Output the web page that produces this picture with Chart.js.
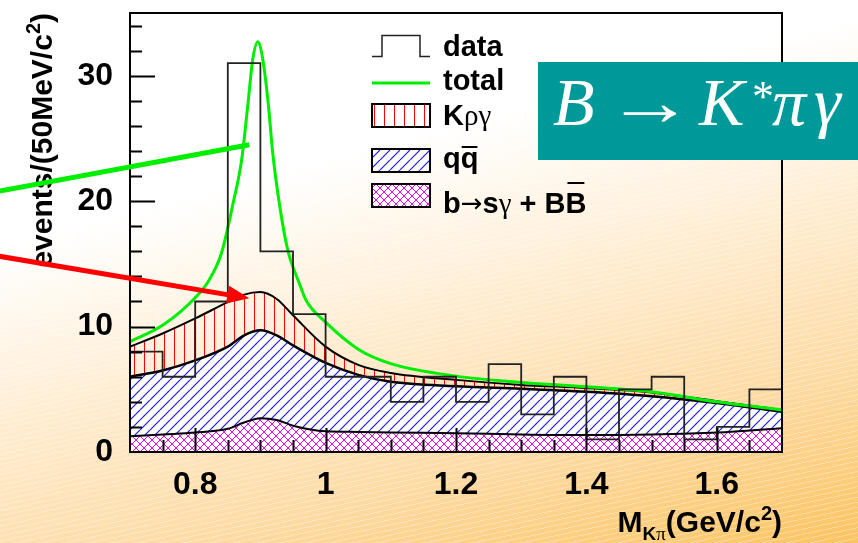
<!DOCTYPE html>
<html>
<head>
<meta charset="utf-8">
<title>B → K*πγ</title>
<script src="https://cdn.jsdelivr.net/npm/chart.js@4.4.1/dist/chart.umd.min.js"></script>
<style>
  html, body { margin: 0; padding: 0; overflow: hidden; }
  #wrap {
    position: relative;
    width: 858px;
    height: 543px;
    background:
      repeating-linear-gradient(168deg, rgba(255,255,255,0) 0 4px, rgba(255,255,255,0.3) 4px 5px),
      linear-gradient(165deg, #ffffff 0%, #ffffff 32%, #fff1dc 50%, #fddaa2 78%, #fbc462 100%);
  }
</style>
</head>
<body>
<div id="wrap"><canvas id="myChart" width="858" height="543"></canvas></div>
<script>
// data histogram, 50 MeV bins from 0.7 to 1.7 GeV
let binStart = 0.7,
  binWidth = 0.05,
  dataCounts = [8, 6, 12, 31, 16, 11, 6, 6, 4, 6, 4, 7, 3, 6, 1, 5, 6, 1, 2, 5];

// fit components (stacked: b->sg+BB, then qq, then K rho gamma)
let compX = [0.7, 0.75, 0.8, 0.85, 0.875, 0.9, 0.925, 0.95, 1.0, 1.05, 1.1, 1.2, 1.3, 1.4, 1.5, 1.6, 1.7],
  bsgBB = [1.25, 1.4, 1.55, 1.85, 2.35, 2.7, 2.55, 2.1, 1.65, 1.6, 1.55, 1.5, 1.4, 1.35, 1.4, 1.55, 1.9],
  qqbar = [4.75, 5.1, 5.75, 6.55, 6.95, 7.0, 6.75, 6.4, 5.45, 4.55, 4.05, 3.75, 3.65, 3.45, 3.05, 2.35, 1.3],
  krhog = [2.4, 2.95, 3.35, 3.55, 3.25, 3.05, 2.9, 2.4, 1.3, 0.8, 0.7, 0.5, 0.3, 0.3, 0.3, 0.15, 0.15];

// total fit curve
let totalX = [0.7, 0.75, 0.8, 0.82, 0.84, 0.858, 0.871, 0.881, 0.888, 0.896, 0.904, 0.912, 0.919, 0.93, 0.942, 0.96, 0.97, 1.0, 1.05, 1.1, 1.2, 1.3, 1.4, 1.5, 1.6, 1.7],
  totalY = [8.8, 10.1, 12.3, 13.6, 15.8, 19.8, 23.2, 27.8, 31.2, 32.7, 31.2, 27.8, 23.8, 19.5, 16.1, 13.4, 12.1, 10.35, 8.2, 7.05, 6.05, 5.55, 5.2, 4.8, 4.0, 3.35];

let xTickValues = [0.8, 1, 1.2, 1.4, 1.6],
  yTickValues = [0, 10, 20, 30];

// arrows pointing at the peak (start, end in data coords)
let greenArrow = [[0.5, 20.8], [0.883, 24.5]],
  redArrow = [[0.5, 15.6], [0.883, 12.25]];

const SANS = '"Liberation Sans", Arial, sans-serif';
const SERIF = '"Liberation Serif", "Times New Roman", serif';
const GREEN = '#00ee00';

var canvas = document.getElementById("myChart");
var ctx = canvas.getContext("2d");

function makePattern(size, bg, color, width, draw) {
  let c = document.createElement("canvas");
  c.width = size;
  c.height = size;
  let g = c.getContext("2d");
  if (bg) {
    g.fillStyle = bg;
    g.fillRect(0, 0, size, size);
  }
  g.strokeStyle = color;
  g.lineWidth = width;
  g.beginPath();
  draw(g, size);
  g.stroke();
  return ctx.createPattern(c, "repeat");
}

const redHatch = makePattern(10, null, "#ff0000", 1, (g, s) => {
  g.moveTo(4.5, 0);
  g.lineTo(4.5, s);
});
const blueHatch = makePattern(10, "#ffffff", "#1a1aff", 1.2, (g, s) => {
  for (let k = -1; k <= 1; k++) {
    g.moveTo(k * s, s);
    g.lineTo(k * s + s, 0);
  }
});
const magentaHatch = makePattern(8, "#ffffff", "#ff00ff", 1, (g, s) => {
  for (let k = -1; k <= 1; k++) {
    g.moveTo(k * s, s);
    g.lineTo(k * s + s, 0);
    g.moveTo(k * s, 0);
    g.lineTo(k * s + s, s);
  }
});

let histPoints = dataCounts.map((v, i) => ({ x: binStart + i * binWidth, y: v }));
histPoints.push({ x: binStart + dataCounts.length * binWidth, y: dataCounts[dataCounts.length - 1] });

const toPts = (xs, ys) => xs.map((x, i) => ({ x: x, y: ys[i] }));

// draw a run of text pieces, return the pieces with their x extents
function drawRun(c, x, y, segs) {
  segs.forEach((s) => {
    c.font = s.f;
    c.fillText(s.t, x, y + (s.dy || 0));
    s.x0 = x;
    x += c.measureText(s.t).width;
    s.x1 = x;
  });
  return segs;
}
function runWidth(c, segs) {
  let w = 0;
  segs.forEach((s) => {
    c.font = s.f;
    w += c.measureText(s.t).width;
  });
  return w;
}

function drawArrow(c, chart, line, color, head) {
  let { x, y } = chart.scales;
  let x0 = x.getPixelForValue(line[0][0]), y0 = y.getPixelForValue(line[0][1]);
  let x1 = x.getPixelForValue(line[1][0]), y1 = y.getPixelForValue(line[1][1]);
  let ang = Math.atan2(y1 - y0, x1 - x0);
  c.strokeStyle = color;
  c.fillStyle = color;
  c.lineWidth = 5;
  c.beginPath();
  c.moveTo(x0, y0);
  if (head) {
    c.lineTo(x1 - 18 * Math.cos(ang), y1 - 18 * Math.sin(ang));
  } else {
    c.lineTo(x1, y1);
  }
  c.stroke();
  if (head) {
    c.beginPath();
    c.moveTo(x1, y1);
    c.lineTo(x1 - 22 * Math.cos(ang) + 9 * Math.sin(ang), y1 - 22 * Math.sin(ang) - 9 * Math.cos(ang));
    c.lineTo(x1 - 22 * Math.cos(ang) - 9 * Math.sin(ang), y1 - 22 * Math.sin(ang) + 9 * Math.cos(ang));
    c.closePath();
    c.fill();
  }
}

const decorations = {
  id: "decorations",
  afterDatasetsDraw(chart) {
    let c = chart.ctx, a = chart.chartArea, { x, y } = chart.scales;
    c.save();
    c.strokeStyle = "#000";
    c.lineWidth = 2;
    c.beginPath();
    // x ticks pointing inward
    for (let i = 1; i < 20; i++) {
      let v = binStart + i * binWidth;
      let major = Math.abs(v / 0.2 - Math.round(v / 0.2)) < 1e-6;
      let px = Math.round(x.getPixelForValue(v)) + 0.5;
      c.moveTo(px, a.bottom);
      c.lineTo(px, a.bottom - (major ? 24 : 12));
    }
    // y ticks
    for (let v = 2; v < 35; v += 2) {
      let py = Math.round(y.getPixelForValue(v)) + 0.5;
      c.moveTo(a.left, py);
      c.lineTo(a.left + (v % 10 === 0 ? 25 : 12), py);
    }
    c.stroke();
    c.strokeRect(a.left, a.top, a.right - a.left, a.bottom - a.top);
    c.restore();
  },
  afterDraw(chart) {
    let c = chart.ctx, a = chart.chartArea;
    c.save();
    c.fillStyle = "#000";
    c.textBaseline = "alphabetic";

    // y title, rotated, ending at the top of the frame
    c.save();
    c.translate(52, a.top);
    c.rotate(-Math.PI / 2);
    let ySegs = [
      { t: "events/(50MeV/c", f: "bold 30px " + SANS },
      { t: "2", f: "bold 20px " + SANS, dy: -12 },
      { t: ")", f: "bold 30px " + SANS },
    ];
    drawRun(c, -runWidth(c, ySegs), 0, ySegs);
    c.restore();

    // x title, right aligned to the frame
    let xSegs = [
      { t: "M", f: "bold 30px " + SANS },
      { t: "K", f: "bold 19px " + SANS, dy: 8 },
      { t: "π", f: "19px " + SERIF, dy: 8 },
      { t: "(GeV/c", f: "bold 30px " + SANS },
      { t: "2", f: "bold 20px " + SANS, dy: -12 },
      { t: ")", f: "bold 30px " + SANS },
    ];
    drawRun(c, a.right - runWidth(c, xSegs), 532, xSegs);

    // legend
    let lx0 = 372, lx1 = 430, tx = 443;
    c.strokeStyle = "#222";
    c.lineWidth = 1.5;
    c.beginPath();
    c.moveTo(lx0, 56.5);
    c.lineTo(382, 56.5);
    c.lineTo(382, 35.5);
    c.lineTo(420, 35.5);
    c.lineTo(420, 56.5);
    c.lineTo(lx1, 56.5);
    c.stroke();
    c.strokeStyle = GREEN;
    c.lineWidth = 3;
    c.beginPath();
    c.moveTo(lx0, 83);
    c.lineTo(lx1, 83);
    c.stroke();
    [[104, redHatch], [149, blueHatch], [184, magentaHatch]].forEach(([top, pat]) => {
      c.fillStyle = "#fff";
      c.fillRect(lx0, top, lx1 - lx0, 23);
      c.fillStyle = pat;
      c.fillRect(lx0, top, lx1 - lx0, 23);
      c.strokeStyle = "#000";
      c.lineWidth = 2;
      c.strokeRect(lx0, top, lx1 - lx0, 23);
    });
    c.fillStyle = "#000";
    const B29 = "bold 29px " + SANS, G29 = "29px " + SERIF;
    drawRun(c, tx, 56, [{ t: "data", f: B29 }]);
    drawRun(c, tx, 90, [{ t: "total", f: B29 }]);
    drawRun(c, tx, 125, [{ t: "K", f: B29 }, { t: "ργ", f: G29 }]);
    let qq = drawRun(c, tx, 168, [{ t: "q", f: B29 }, { t: "q", f: B29 }]);
    let bb = drawRun(c, tx, 213, [
      { t: "b", f: B29 },
      { t: "→", f: '26px "DejaVu Sans", sans-serif', dy: -1 },
      { t: "s", f: B29 },
      { t: "γ", f: G29 },
      { t: " + B", f: B29 },
      { t: "B", f: B29 },
    ]);
    c.fillRect(qq[1].x0 + 1, 146, qq[1].x1 - qq[1].x0 - 2, 2);
    c.fillRect(bb[5].x0 + 2, 182, bb[5].x1 - bb[5].x0 - 4, 2);

    // arrows
    drawArrow(c, chart, greenArrow, GREEN, false);
    drawArrow(c, chart, redArrow, "#ff0000", true);

    // teal title box
    c.fillStyle = "#009999";
    c.fillRect(538, 62, 320, 98);
    c.fillStyle = "#ffffff";
    const IT = "italic 68px " + SERIF;
    c.font = IT;
    c.fillText("B", 553, 125);
    c.save();
    c.translate(650, 125);
    c.scale(1.3, 1);
    c.font = "68px " + SERIF;
    c.textAlign = "center";
    c.fillText("→", 0, 0);
    c.restore();
    c.font = IT;
    c.fillText("K", 699, 125);
    c.font = "44px " + SERIF;
    c.fillText("*", 752, 111);
    c.font = IT;
    c.fillText("π", 772, 125);
    c.fillText("γ", 814, 125);
    c.restore();
  },
};

const tickFont = { family: SANS, size: 32, weight: "bold" };

var myChart = new Chart(ctx, {
  type: "line",
  data: {
    datasets: [
      {
        label: "data",
        data: histPoints,
        stepped: "before",
        borderColor: "#222",
        borderWidth: 1.8,
        pointRadius: 0,
        fill: false,
        stack: "data",
        order: -2,
      },
      {
        label: "total",
        data: toPts(totalX, totalY),
        borderColor: GREEN,
        borderWidth: 3,
        pointRadius: 0,
        fill: false,
        cubicInterpolationMode: "monotone",
        stack: "total",
        order: -1,
      },
      {
        label: "b→sγ + BB̄",
        data: toPts(compX, bsgBB),
        borderColor: "#000",
        borderWidth: 2,
        backgroundColor: magentaHatch,
        pointRadius: 0,
        fill: "origin",
        cubicInterpolationMode: "monotone",
        stack: "fit",
      },
      {
        label: "qq̄",
        data: toPts(compX, qqbar),
        borderColor: "#000",
        borderWidth: 2.5,
        backgroundColor: blueHatch,
        pointRadius: 0,
        fill: 2,
        cubicInterpolationMode: "monotone",
        stack: "fit",
      },
      {
        label: "Kργ",
        data: toPts(compX, krhog),
        borderColor: "#000",
        borderWidth: 2,
        backgroundColor: redHatch,
        pointRadius: 0,
        fill: 3,
        cubicInterpolationMode: "monotone",
        stack: "fit",
      },
    ],
  },
  options: {
    responsive: false,
    devicePixelRatio: 1,
    animation: false,
    layout: { padding: { top: 13, right: 76, left: 0, bottom: 0 } },
    plugins: { legend: { display: false }, tooltip: { enabled: false } },
    scales: {
      x: {
        type: "linear",
        min: 0.7,
        max: 1.7,
        grid: { display: false, drawTicks: false },
        border: { display: false },
        afterBuildTicks: (s) => {
          s.ticks = xTickValues.map((v) => ({ value: v }));
        },
        afterFit: (s) => {
          s.height = 91;
          s.paddingLeft = 0;
          s.paddingRight = 0;
        },
        ticks: {
          font: tickFont,
          color: "#000",
          padding: 14,
          maxRotation: 0,
          autoSkip: false,
          callback: (v) => String(+(+v).toFixed(2)),
        },
      },
      y: {
        min: 0,
        max: 35,
        stacked: true,
        grid: { display: false, drawTicks: false },
        border: { display: false },
        afterBuildTicks: (s) => {
          s.ticks = yTickValues.map((v) => ({ value: v }));
        },
        afterFit: (s) => {
          s.width = 130;
          s.paddingTop = 0;
          s.paddingBottom = 0;
        },
        ticks: { font: tickFont, color: "#000", padding: 17, autoSkip: false },
      },
    },
  },
  plugins: [decorations],
});
</script>
</body>
</html>
